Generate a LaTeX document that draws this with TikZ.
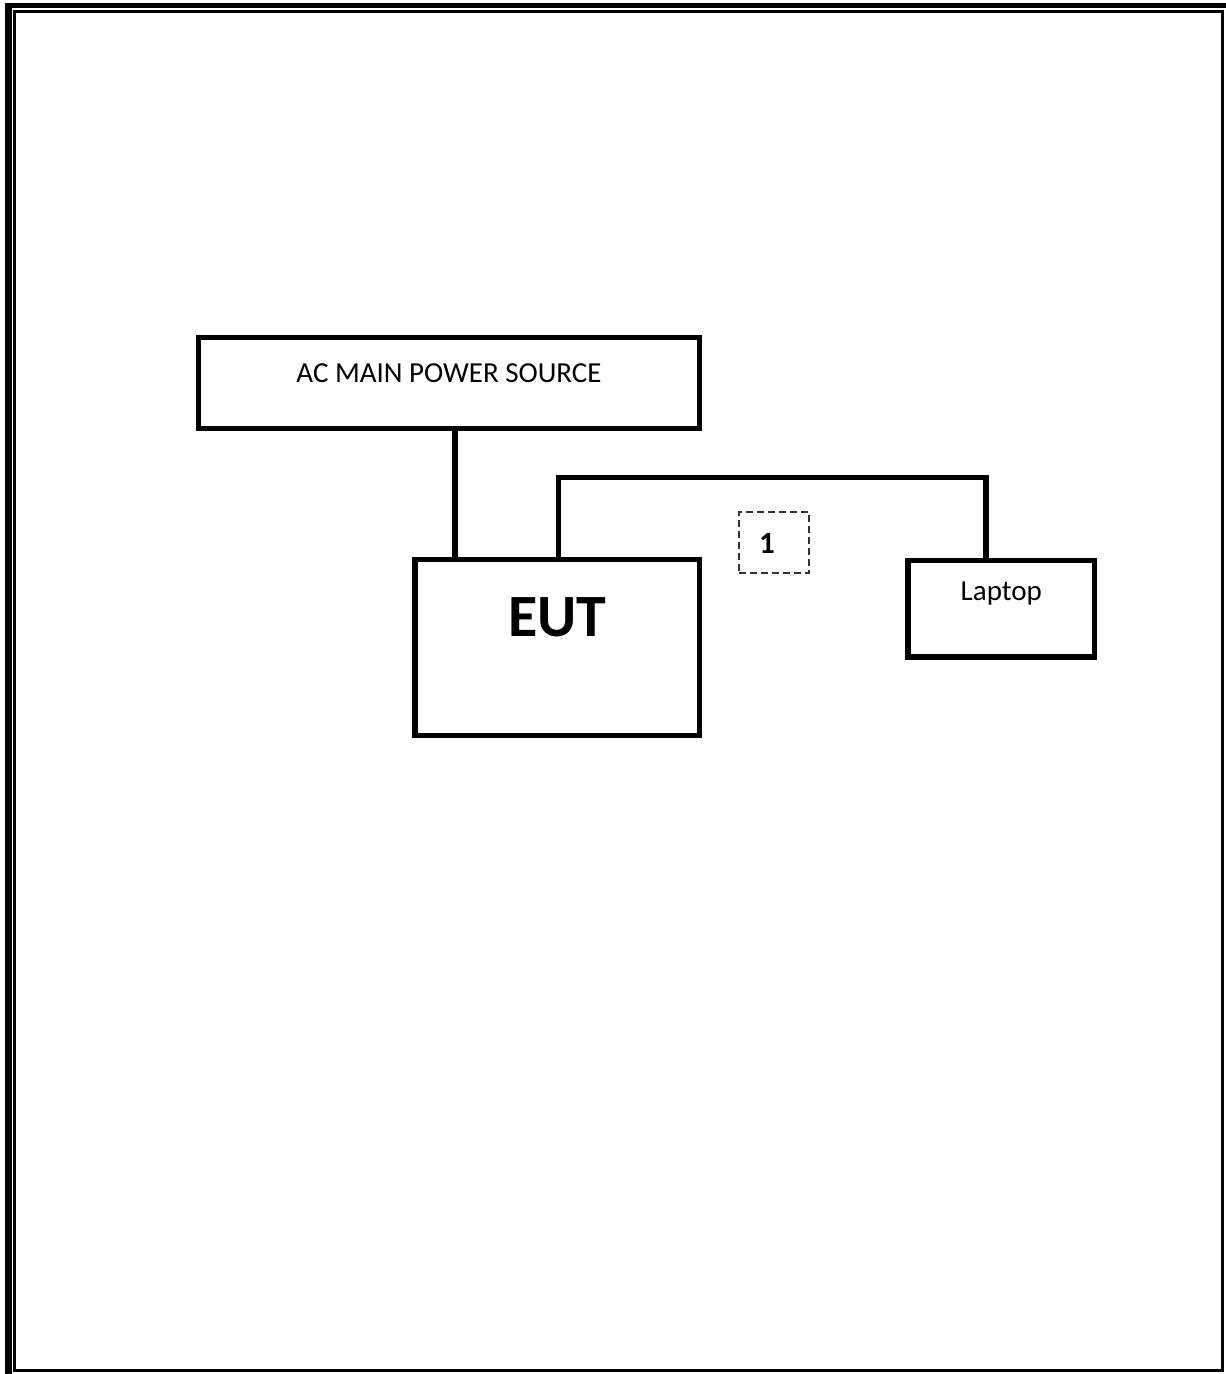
\documentclass[tikz,border=0pt]{standalone}
\usepackage{fontspec}
\setmainfont{Carlito}
\begin{document}
\begin{tikzpicture}[x=1pt,y=-1pt,
  blockbox/.style={draw=black,line width=5.5pt,inner sep=0pt,fill=white},
  conn/.style={draw=black,line width=5.5pt,line join=miter},
  dashbox/.style={draw=black!80,line width=1.5pt,dash pattern=on 7pt off 4pt,inner sep=0pt},
  normtext/.style={anchor=base,inner sep=0pt,font=\fontsize{29}{34}\selectfont},
  eutlabel/.style={anchor=base,inner sep=0pt,font=\fontsize{60}{72}\selectfont\bfseries},
  numlabel/.style={anchor=base,inner sep=0pt,font=\fontsize{31}{36}\selectfont\bfseries}]
\useasboundingbox (0,0) rectangle (1226,1374);
% page border
\fill[black] (5,3) rectangle (12,1374);
\fill[black] (5,3) rectangle (1226,8);
\draw[line width=3pt] (14,11) rectangle (1222,1370);
% blocks
\node[blockbox,minimum width=501pt,minimum height=91pt] (AC) at (449,383) {};
\node[blockbox,minimum width=284.5pt,minimum height=176pt] (EUT) at (557.25,647.5) {};
\node[blockbox,minimum width=186.5pt,minimum height=96.5pt] (LT) at (1001.25,608.75) {};
\node[dashbox,minimum width=70pt,minimum height=61pt] (D1) at (774,542.5) {};
% labels
\node[normtext] (ACt) at ([yshift=1pt]AC.center) {AC MAIN POWER SOURCE};
\node[eutlabel] (EUTt) at ([yshift=11.5pt]EUT.center) {EUT};
\node[normtext] (LTt) at ([yshift=8pt]LT.center) {Laptop};
\node[numlabel] (D1t) at ([xshift=-7pt,yshift=-10.5pt]D1.center) {1};
% connectors
\draw[conn] ([xshift=6pt]AC.south) -- ([xshift=6pt]AC.south |- EUT.north);
\coordinate (bend) at ([xshift=1.25pt,yshift=79.5pt]EUT.north);
\draw[conn] ([xshift=1.25pt]EUT.north) -- (bend) -| ([xshift=-15.25pt]LT.north);
\end{tikzpicture}
\end{document}
